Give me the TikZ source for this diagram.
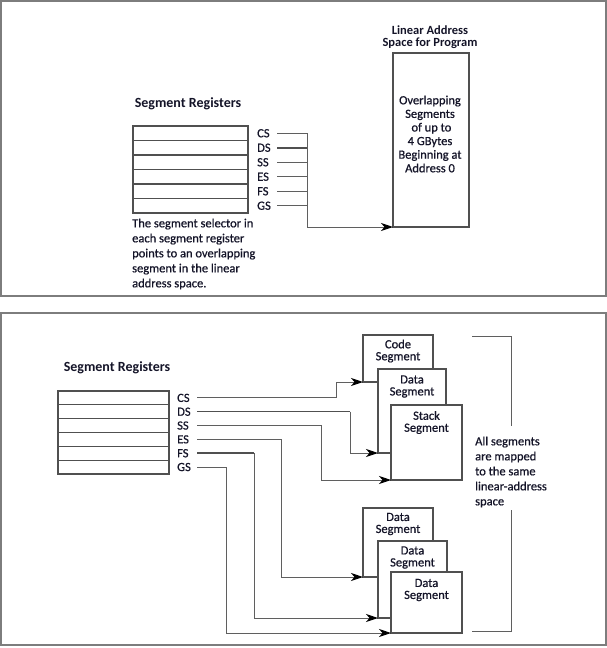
\documentclass[tikz,border=0pt]{standalone}
\usepackage{fontspec}
\setmainfont{Carlito}[UprightFeatures={FakeBold=0.7}]
\usetikzlibrary{arrows.meta}
\definecolor{ink}{RGB}{20,20,40}
\definecolor{wire}{RGB}{95,95,95}
\definecolor{edge}{RGB}{80,80,80}
\definecolor{framecol}{RGB}{125,125,125}

\begin{document}
\begin{tikzpicture}[x=1pt,y=-1pt,
  font=\fontsize{12.5}{15}\selectfont, text=ink,
  panel/.style={draw=framecol, line width=1.5pt},
  regrow/.style={draw=edge, line width=1.1pt, fill=white, inner sep=0pt, outer sep=0pt, anchor=north west},
  reglbl/.style={anchor=west, inner sep=0pt},
  heading/.style={font=\fontsize{14}{16}\selectfont\bfseries, inner sep=0pt},
  segbox/.style={draw=edge, line width=1.1pt, fill=white, inner sep=0pt, outer sep=0pt, anchor=north west},
  segtext/.style={align=center, inner sep=0pt, font=\fontsize{12.5}{12}\selectfont},
  wireline/.style={draw=wire, line width=0.9pt},
  heavy/.style={line width=1.5pt, draw=edge},
  arrowline/.style={wireline, -{Stealth[length=12pt,width=8pt,inset=3.5pt,color=black]}},
]
\useasboundingbox (0,0) rectangle (607,648);

% ---------- upper panel: flat model ----------
\draw[panel] (1,1) rectangle (606,296);

\node[heading] (tHead) at (188,104) {Segment Registers};

% register file, six rows
\foreach \i/\r in {0/CS,1/DS,2/SS,3/ES,4/FS,5/GS}{
  \node[regrow, minimum width=115pt, minimum height=14.5pt] (tr\r) at (133,126+14.5*\i) {};
  \node[reglbl] (t\r) at (257,133.25+14.5*\i) {\r};
}

\coordinate (tstart) at (277,0);
\coordinate (tbus) at (307,0);

% linear address space
\node[segbox, minimum width=76pt, minimum height=174pt] (lin) at (393,53) {};
\node[heading, font=\fontsize{12.5}{12}\selectfont\bfseries, align=center] (linHead) at (430,37)
  {Linear Address\\Space for Program};
\node[segtext, font=\fontsize{12.5}{13.6}\selectfont] (linText) at (430,134)
  {Overlapping\\Segments\\\ of up to\\4 GBytes\\Beginning at\\Address 0};

\foreach \r in {CS,SS,ES,FS,GS}{
  \draw[wireline] (t\r -| tstart) -- (t\r -| tbus);
}
\draw[wireline, heavy] (tDS -| tstart) -- (tDS -| tbus);
\draw[arrowline] (tCS -| tbus) |- (lin.south west);

\node[align=left, anchor=west, inner sep=0pt] (tNote) at (132,254)
  {The segment selector in\\each segment register\\points to an overlapping\\segment in the linear\\address space.};

% ---------- lower panel: multi-segment model ----------
\draw[panel] (1,313) rectangle (606,645);

\node[heading] (bHead) at (117,368) {Segment Registers};

\foreach \i/\r in {0/CS,1/DS,2/SS,3/ES,4/FS,5/GS}{
  \node[regrow, minimum width=111pt, minimum height=13.83pt] (br\r) at (58,391+13.83*\i) {};
  \node[reglbl] (b\r) at (177,397.9+13.83*\i) {\r};
}
\coordinate (bstart) at (197,0);

% upper stack of segments
\node[segbox, minimum width=70pt, minimum height=47pt] (code) at (363,335) {};
\node[segtext] at ([yshift=-16pt]code.north) {Code\\Segment};
\node[segbox, minimum width=68pt, minimum height=84pt] (dataA) at (378,369) {};
\node[segtext] at ([yshift=-17.5pt]dataA.north) {Data\\Segment};
\node[segbox, minimum width=71pt, minimum height=75pt] (stack) at (391,405) {};
\node[segtext] at ([yshift=-17.5pt]stack.north) {Stack\\Segment};

% lower stack of segments
\node[segbox, minimum width=70pt, minimum height=69pt] (dataB) at (363,508) {};
\node[segtext] at ([yshift=-16pt]dataB.north) {Data\\Segment};
\node[segbox, minimum width=69pt, minimum height=77pt] (dataC) at (378,541) {};
\node[segtext] at ([yshift=-16.5pt]dataC.north) {Data\\Segment};
\node[segbox, minimum width=71pt, minimum height=61pt] (dataD) at (391,572) {};
\node[segtext] at ([yshift=-18pt]dataD.north) {Data\\Segment};

% turning columns of the selector lines
\coordinate (kCS) at (336,0);
\coordinate (kDS) at (350,0);
\coordinate (kSS) at (321,0);
\coordinate (kES) at (281,0);
\coordinate (kFS) at (254,0);
\coordinate (kGS) at (226,0);

\draw[arrowline] (bCS -| bstart) -- (bCS -| kCS) |- (code.south west);
\draw[arrowline] (bSS -| bstart) -- (bSS -| kSS) |- (stack.south west);
\draw[arrowline] (bES -| bstart) -- (bES -| kES) |- (dataB.south west);
\draw[arrowline] (bGS -| bstart) -- (bGS -| kGS) |- (dataD.south west);
% DS and FS: the horizontal runs are drawn heavier
\draw[wireline, heavy] (bDS -| bstart) -- (bDS -| kDS);
\draw[arrowline] (bDS -| kDS) |- (dataA.south west);
\draw[wireline, heavy] (bFS -| bstart) -- (bFS -| kFS);
\draw[arrowline] (bFS -| kFS) |- (dataC.south west);

% bracket grouping all segments
\node[align=left, anchor=west, inner sep=0pt] (allNote) at (475,472)
  {All segments\\are mapped\\to the same\\linear-address\\space};
\coordinate (brTop) at (511,336);
\coordinate (brBot) at (511,631);
\draw[wireline] (472,336) -- (brTop) -- ([yshift=-90pt]brTop);
\draw[wireline] ([yshift=121pt]brBot) -- (brBot) -- (472,631);
\end{tikzpicture}
\end{document}
